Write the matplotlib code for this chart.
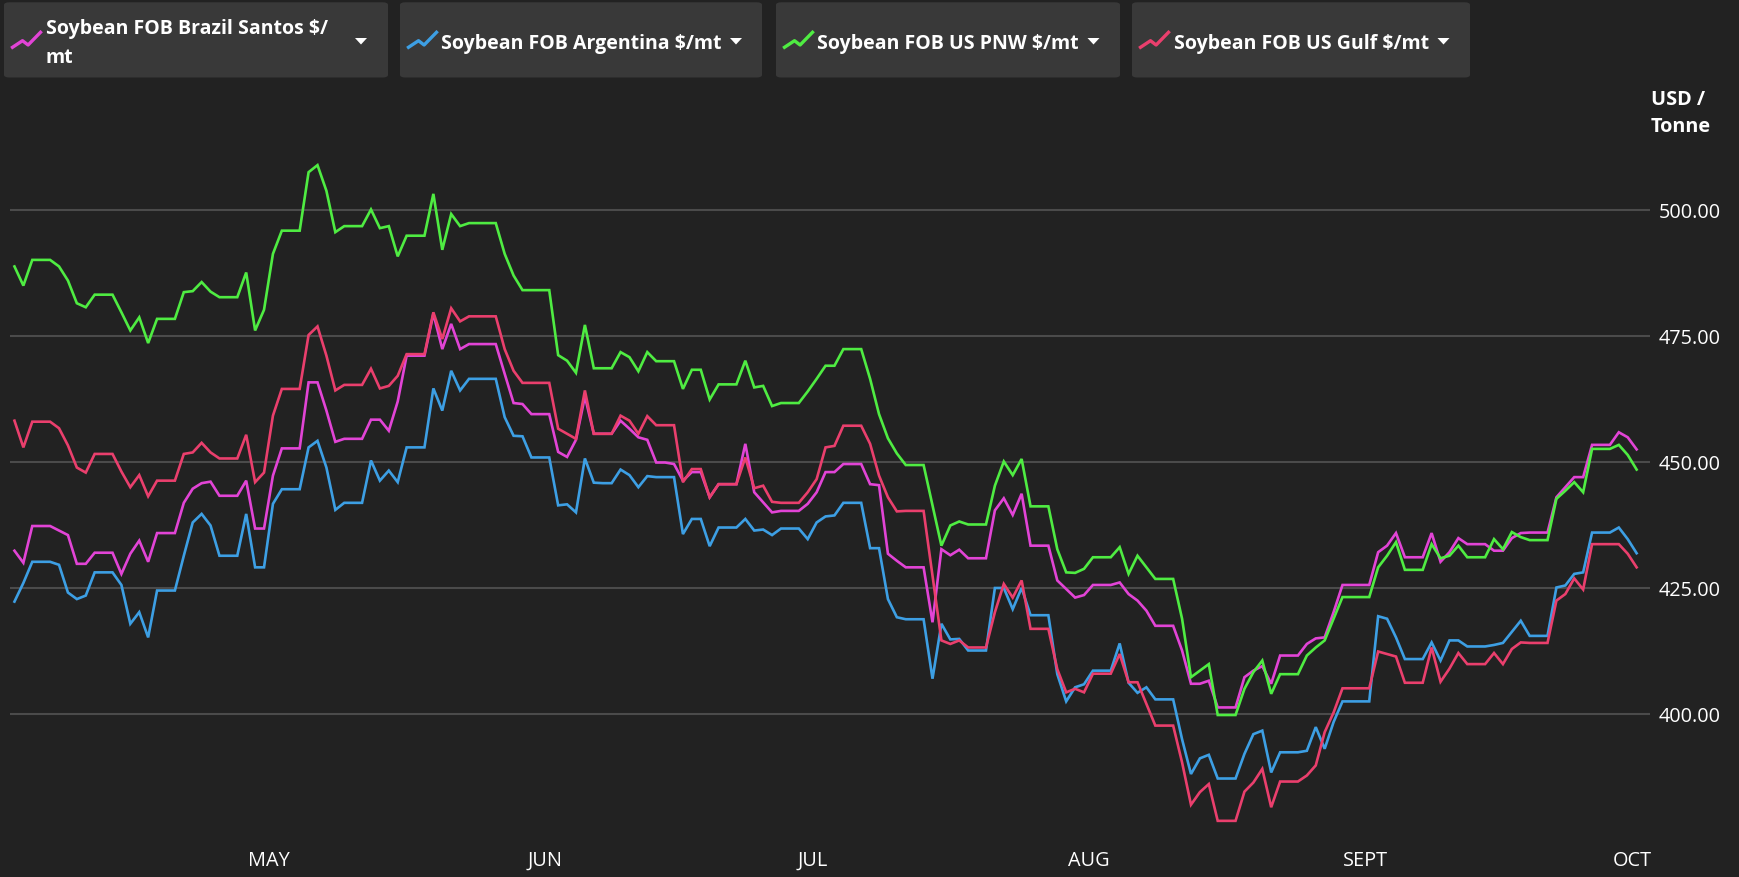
import matplotlib
matplotlib.use("Agg")
import matplotlib.pyplot as plt
from matplotlib.patches import FancyBboxPatch, Polygon
from matplotlib.lines import Line2D
import pandas as pd

plt.rcParams['font.family'] = ['Open Sans', 'DejaVu Sans']

# ---------------- data (daily, from 2024-04-03) ----------------
start_date = "2024-04-03"

brazil_santos = [
    432.4, 430.0, 437.3, 437.3, 437.3, 436.4, 435.5, 429.8, 429.8, 432.0,
    432.0, 432.0, 427.8, 431.8, 434.4, 430.2, 435.9, 435.9, 435.9, 441.9,
    444.7, 445.8, 446.1, 443.3, 443.3, 443.3, 446.3, 436.8, 436.8, 447.3,
    452.7, 452.7, 452.7, 465.8, 465.8, 460.2, 454.0, 454.6, 454.6, 454.6,
    458.4, 458.4, 456.2, 462.0, 471.1, 471.1, 471.1, 479.4, 472.4, 477.4,
    472.4, 473.4, 473.4, 473.4, 473.4, 467.5, 461.7, 461.5, 459.5, 459.5,
    459.5, 452.0, 451.0, 454.4, 463.0, 455.6, 455.6, 455.6, 458.2, 456.6,
    454.9, 454.4, 449.9, 449.9, 449.6, 446.3, 448.0, 448.0, 443.0, 445.6,
    445.6, 445.6, 453.6, 444.0, 442.0, 440.0, 440.3, 440.3, 440.3, 441.7,
    444.0, 448.0, 448.0, 449.6, 449.6, 449.6, 445.6, 445.4, 431.8, 430.4,
    429.1, 429.1, 429.1, 418.2, 432.7, 431.5, 432.6, 430.9, 430.9, 430.9,
    440.4, 442.8, 439.5, 443.7, 433.4, 433.4, 433.4, 426.5, 424.8, 423.1,
    423.6, 425.6, 425.6, 425.6, 426.1, 423.8, 422.5, 420.5, 417.5, 417.5,
    417.5, 412.6, 406.0, 406.0, 406.6, 401.3, 401.3, 401.3, 407.3, 408.6,
    409.5, 406.0, 411.6, 411.6, 411.6, 413.9, 415.0, 415.2, 420.2, 425.6,
    425.6, 425.6, 425.6, 432.1, 433.4, 435.9, 431.1, 431.1, 431.1, 435.9,
    430.2, 432.1, 434.9, 433.7, 433.7, 433.7, 432.4, 432.4, 434.9, 435.9,
    436.0, 436.0, 436.0, 443.0, 445.0, 447.0, 447.0, 453.4, 453.4, 453.4,
    455.9, 454.9, 452.5,
]

argentina = [
    422.3, 426.0, 430.2, 430.2, 430.2, 429.6, 424.1, 422.8, 423.5, 428.1,
    428.1, 428.1, 425.6, 417.9, 420.2, 415.2, 424.5, 424.5, 424.5, 431.4,
    438.0, 439.7, 437.4, 431.4, 431.4, 431.4, 439.7, 429.1, 429.1, 441.7,
    444.6, 444.6, 444.6, 452.9, 454.2, 448.9, 440.5, 441.9, 441.9, 441.9,
    450.3, 446.3, 448.3, 446.0, 452.9, 452.9, 452.9, 464.6, 460.2, 468.1,
    464.2, 466.5, 466.5, 466.5, 466.5, 458.9, 455.2, 455.1, 450.9, 450.9,
    450.9, 441.4, 441.6, 440.0, 450.7, 445.9, 445.8, 445.8, 448.5, 447.4,
    445.0, 447.2, 447.0, 447.0, 447.0, 435.7, 438.7, 438.7, 433.3, 437.0,
    437.0, 437.0, 438.7, 436.4, 436.6, 435.5, 436.8, 436.8, 436.8, 434.7,
    438.0, 439.2, 439.4, 441.9, 441.9, 441.9, 432.9, 432.9, 422.8, 419.2,
    418.8, 418.8, 418.8, 407.0, 417.9, 414.8, 414.9, 412.6, 412.6, 412.6,
    425.0, 425.0, 420.8, 425.0, 419.6, 419.6, 419.6, 407.9, 402.5, 405.3,
    405.9, 408.6, 408.6, 408.6, 414.0, 406.2, 404.2, 405.3, 402.9, 402.9,
    402.9, 395.0, 388.1, 391.2, 391.9, 387.2, 387.2, 387.2, 392.1, 396.0,
    396.7, 388.4, 392.4, 392.4, 392.4, 392.7, 397.4, 393.1, 398.4, 402.5,
    402.5, 402.5, 402.5, 419.4, 418.9, 415.2, 410.9, 410.9, 410.9, 414.2,
    410.6, 414.6, 414.6, 413.4, 413.4, 413.4, 413.7, 414.1, 416.3, 418.5,
    415.5, 415.5, 415.5, 425.1, 425.5, 427.8, 428.1, 436.0, 436.0, 436.0,
    437.0, 434.7, 431.9,
]

us_pnw = [
    488.8, 485.0, 490.1, 490.1, 490.1, 488.8, 486.0, 481.5, 480.7, 483.2,
    483.2, 483.2, 479.7, 476.1, 478.7, 473.6, 478.4, 478.4, 478.4, 483.7,
    483.9, 485.7, 483.8, 482.7, 482.7, 482.7, 487.6, 476.1, 480.2, 491.3,
    495.9, 495.9, 495.9, 507.5, 508.9, 503.8, 495.6, 496.8, 496.8, 496.8,
    500.1, 496.4, 496.8, 490.8, 494.9, 494.9, 494.9, 503.2, 492.1, 499.2,
    496.8, 497.4, 497.4, 497.4, 497.4, 491.3, 487.0, 484.1, 484.1, 484.1,
    484.1, 471.2, 470.1, 467.7, 477.2, 468.6, 468.6, 468.6, 471.8, 470.8,
    468.0, 471.8, 470.0, 470.0, 470.0, 464.5, 468.3, 468.3, 462.4, 465.4,
    465.4, 465.4, 470.1, 464.8, 465.1, 461.1, 461.7, 461.7, 461.7, 464.0,
    466.5, 469.1, 469.1, 472.4, 472.4, 472.4, 466.5, 459.5, 454.7, 451.7,
    449.4, 449.4, 449.4, 441.4, 433.4, 437.4, 438.2, 437.6, 437.6, 437.6,
    445.3, 450.1, 447.4, 450.6, 441.2, 441.2, 441.2, 432.7, 428.1, 428.0,
    428.8, 431.1, 431.1, 431.1, 433.1, 427.8, 431.4, 429.1, 426.8, 426.8,
    426.8, 418.9, 407.3, 408.6, 409.9, 399.8, 399.8, 399.8, 405.0, 408.3,
    410.6, 404.0, 407.9, 407.9, 407.9, 411.6, 413.2, 414.6, 418.9, 423.2,
    423.2, 423.2, 423.2, 429.1, 431.4, 434.1, 428.6, 428.6, 428.6, 433.7,
    430.9, 431.4, 433.4, 431.1, 431.1, 431.1, 434.7, 432.7, 436.1, 435.1,
    434.5, 434.5, 434.5, 442.7, 444.3, 446.0, 444.0, 452.6, 452.6, 452.6,
    453.4, 451.4, 448.5,
]

us_gulf = [
    458.2, 452.9, 458.0, 458.0, 458.0, 456.7, 453.3, 448.9, 447.9, 451.6,
    451.6, 451.6, 448.1, 445.0, 447.4, 443.2, 446.3, 446.3, 446.3, 451.6,
    451.9, 453.8, 451.9, 450.7, 450.7, 450.7, 455.4, 446.0, 447.9, 459.2,
    464.5, 464.5, 464.5, 475.2, 476.9, 471.1, 464.2, 465.3, 465.3, 465.3,
    468.5, 464.6, 465.1, 467.1, 471.4, 471.4, 471.4, 479.7, 474.4, 480.5,
    477.9, 478.9, 478.9, 478.9, 478.9, 472.4, 468.1, 465.7, 465.7, 465.7,
    465.7, 456.6, 455.6, 454.6, 464.2, 455.6, 455.6, 455.6, 459.2, 458.2,
    455.6, 459.1, 457.3, 457.3, 457.3, 446.0, 448.6, 448.6, 443.0, 445.6,
    445.6, 445.6, 450.9, 444.8, 445.3, 442.1, 441.9, 441.9, 441.9, 444.0,
    446.6, 452.9, 453.2, 457.2, 457.2, 457.2, 453.6, 447.3, 443.0, 440.2,
    440.3, 440.3, 440.3, 427.5, 414.6, 413.9, 414.6, 413.2, 413.2, 413.2,
    420.2, 425.8, 423.1, 426.5, 416.9, 416.9, 416.9, 408.9, 404.3, 405.0,
    404.3, 408.0, 408.0, 408.0, 411.9, 406.3, 406.3, 402.0, 397.7, 397.7,
    397.7, 390.4, 382.0, 384.5, 386.1, 378.8, 378.8, 378.8, 384.6, 386.4,
    389.1, 381.5, 386.6, 386.6, 386.6, 387.8, 389.8, 396.4, 400.3, 405.1,
    405.1, 405.1, 405.1, 412.4, 411.9, 411.4, 406.2, 406.2, 406.2, 413.2,
    406.4, 409.0, 412.1, 409.9, 409.9, 409.9, 412.1, 409.9, 412.9, 414.2,
    414.1, 414.1, 414.1, 422.5, 423.8, 426.9, 424.7, 433.7, 433.7, 433.7,
    433.7, 431.8, 429.1,
]

series_names = [
    "Soybean FOB Brazil Santos $/\nmt",
    "Soybean FOB Argentina $/mt",
    "Soybean FOB US PNW $/mt",
    "Soybean FOB US Gulf $/mt",
]
month_labels = ["MAY", "JUN", "JUL", "AUG", "SEPT", "OCT"]
month_starts = ["2024-05-01", "2024-06-01", "2024-07-01", "2024-08-01", "2024-09-01", "2024-10-01"]
y_ticks = [400, 425, 450, 475, 500]
y_unit = "USD /\nTonne"

# ---------------- styling ----------------
W, H = 1740, 878
BG = "#222222"
BOX = "#393939"
GRID = "#4b4b4b"
colors = ["#e244d6", "#3d9fe4", "#4fec42", "#ea3f6d"]

fig = plt.figure(figsize=(W / 100, H / 100), dpi=100, facecolor=BG)

def fx(x):
    return x / W

def fy(y):
    return 1 - y / H

ax_left, ax_right, ax_top, ax_bottom = 10, 1650, 110.2, 841
ax = fig.add_axes([fx(ax_left), fy(ax_bottom), (ax_right - ax_left) / W, (ax_bottom - ax_top) / H])
ax.set_facecolor(BG)
for s in ax.spines.values():
    s.set_visible(False)

dates = pd.date_range(start_date, periods=len(us_pnw), freq="D")
all_series = [brazil_santos, argentina, us_pnw, us_gulf]
for vals, c in zip(all_series, colors):
    ax.plot(dates, vals, color=c, lw=1.9, solid_joinstyle="miter", zorder=3)

ax.set_ylim(375, 520)
ax.set_xlim(dates[0] - pd.Timedelta(hours=12), dates[0] + pd.Timedelta(days=183.5))

ax.yaxis.tick_right()
ax.set_yticks(y_ticks)
ax.set_yticklabels([f"{v:.2f}" for v in y_ticks])
ax.tick_params(axis="y", length=0, pad=6, labelsize=14.3, labelcolor="white")
ax.grid(axis="y", color=GRID, lw=1.5, zorder=1)
ax.grid(axis="x", visible=False)

tick_pos = pd.to_datetime(month_starts) + pd.Timedelta(hours=13)
ax.set_xticks(tick_pos)
ax.set_xticklabels(month_labels)
ax.tick_params(axis="x", length=0, pad=7, labelsize=14.3, labelcolor="white")

# axis unit label
fig.text(fx(1651), fy(90), y_unit, color="white", fontsize=14.3, fontweight="bold",
         ha="left", va="top", linespacing=1.5)

# ---------------- legend boxes ----------------
boxes = [(4, 388), (400, 762), (776, 1120), (1132, 1470)]
text_x = [46, 441, 817, 1174]
tri_x = [361, 736, 1093.5, 1443.5]
box_top, box_bot = 3.3, 78.5

for i, ((x0, x1), name, c) in enumerate(zip(boxes, series_names, colors)):
    p = FancyBboxPatch((fx(x0), fy(box_bot)), (x1 - x0) / W, (box_bot - box_top) / H,
                       boxstyle="round,pad=0,rounding_size=0.003",
                       transform=fig.transFigure, facecolor=BOX, edgecolor="none")
    fig.patches.append(p)
    ix = x0 + 8.5
    pts_x = [ix, ix + 10, ix + 15.6, ix + 28]
    pts_y = [48.3, 41.7, 46.0, 33.3]
    fig.add_artist(Line2D([fx(v) for v in pts_x], [fy(v) for v in pts_y],
                          transform=fig.transFigure, color=c, lw=2.4))
    if "\n" in name:
        l1, l2 = name.split("\n")
        fig.text(fx(text_x[i]), fy(33.8), l1, color="white", fontsize=14,
                 fontweight="bold", ha="left", va="baseline")
        fig.text(fx(text_x[i]), fy(63.3), l2, color="white", fontsize=14,
                 fontweight="bold", ha="left", va="baseline")
    else:
        fig.text(fx(text_x[i]), fy(49.3), name, color="white", fontsize=14,
                 fontweight="bold", ha="left", va="baseline")
    tx = tri_x[i]
    tri = Polygon([(fx(tx - 6), fy(39)), (fx(tx + 6), fy(39)), (fx(tx), fy(45.5))],
                  closed=True, transform=fig.transFigure, facecolor="white", edgecolor="none")
    fig.patches.append(tri)

fig.savefig("out.png", dpi=100, facecolor=BG)
